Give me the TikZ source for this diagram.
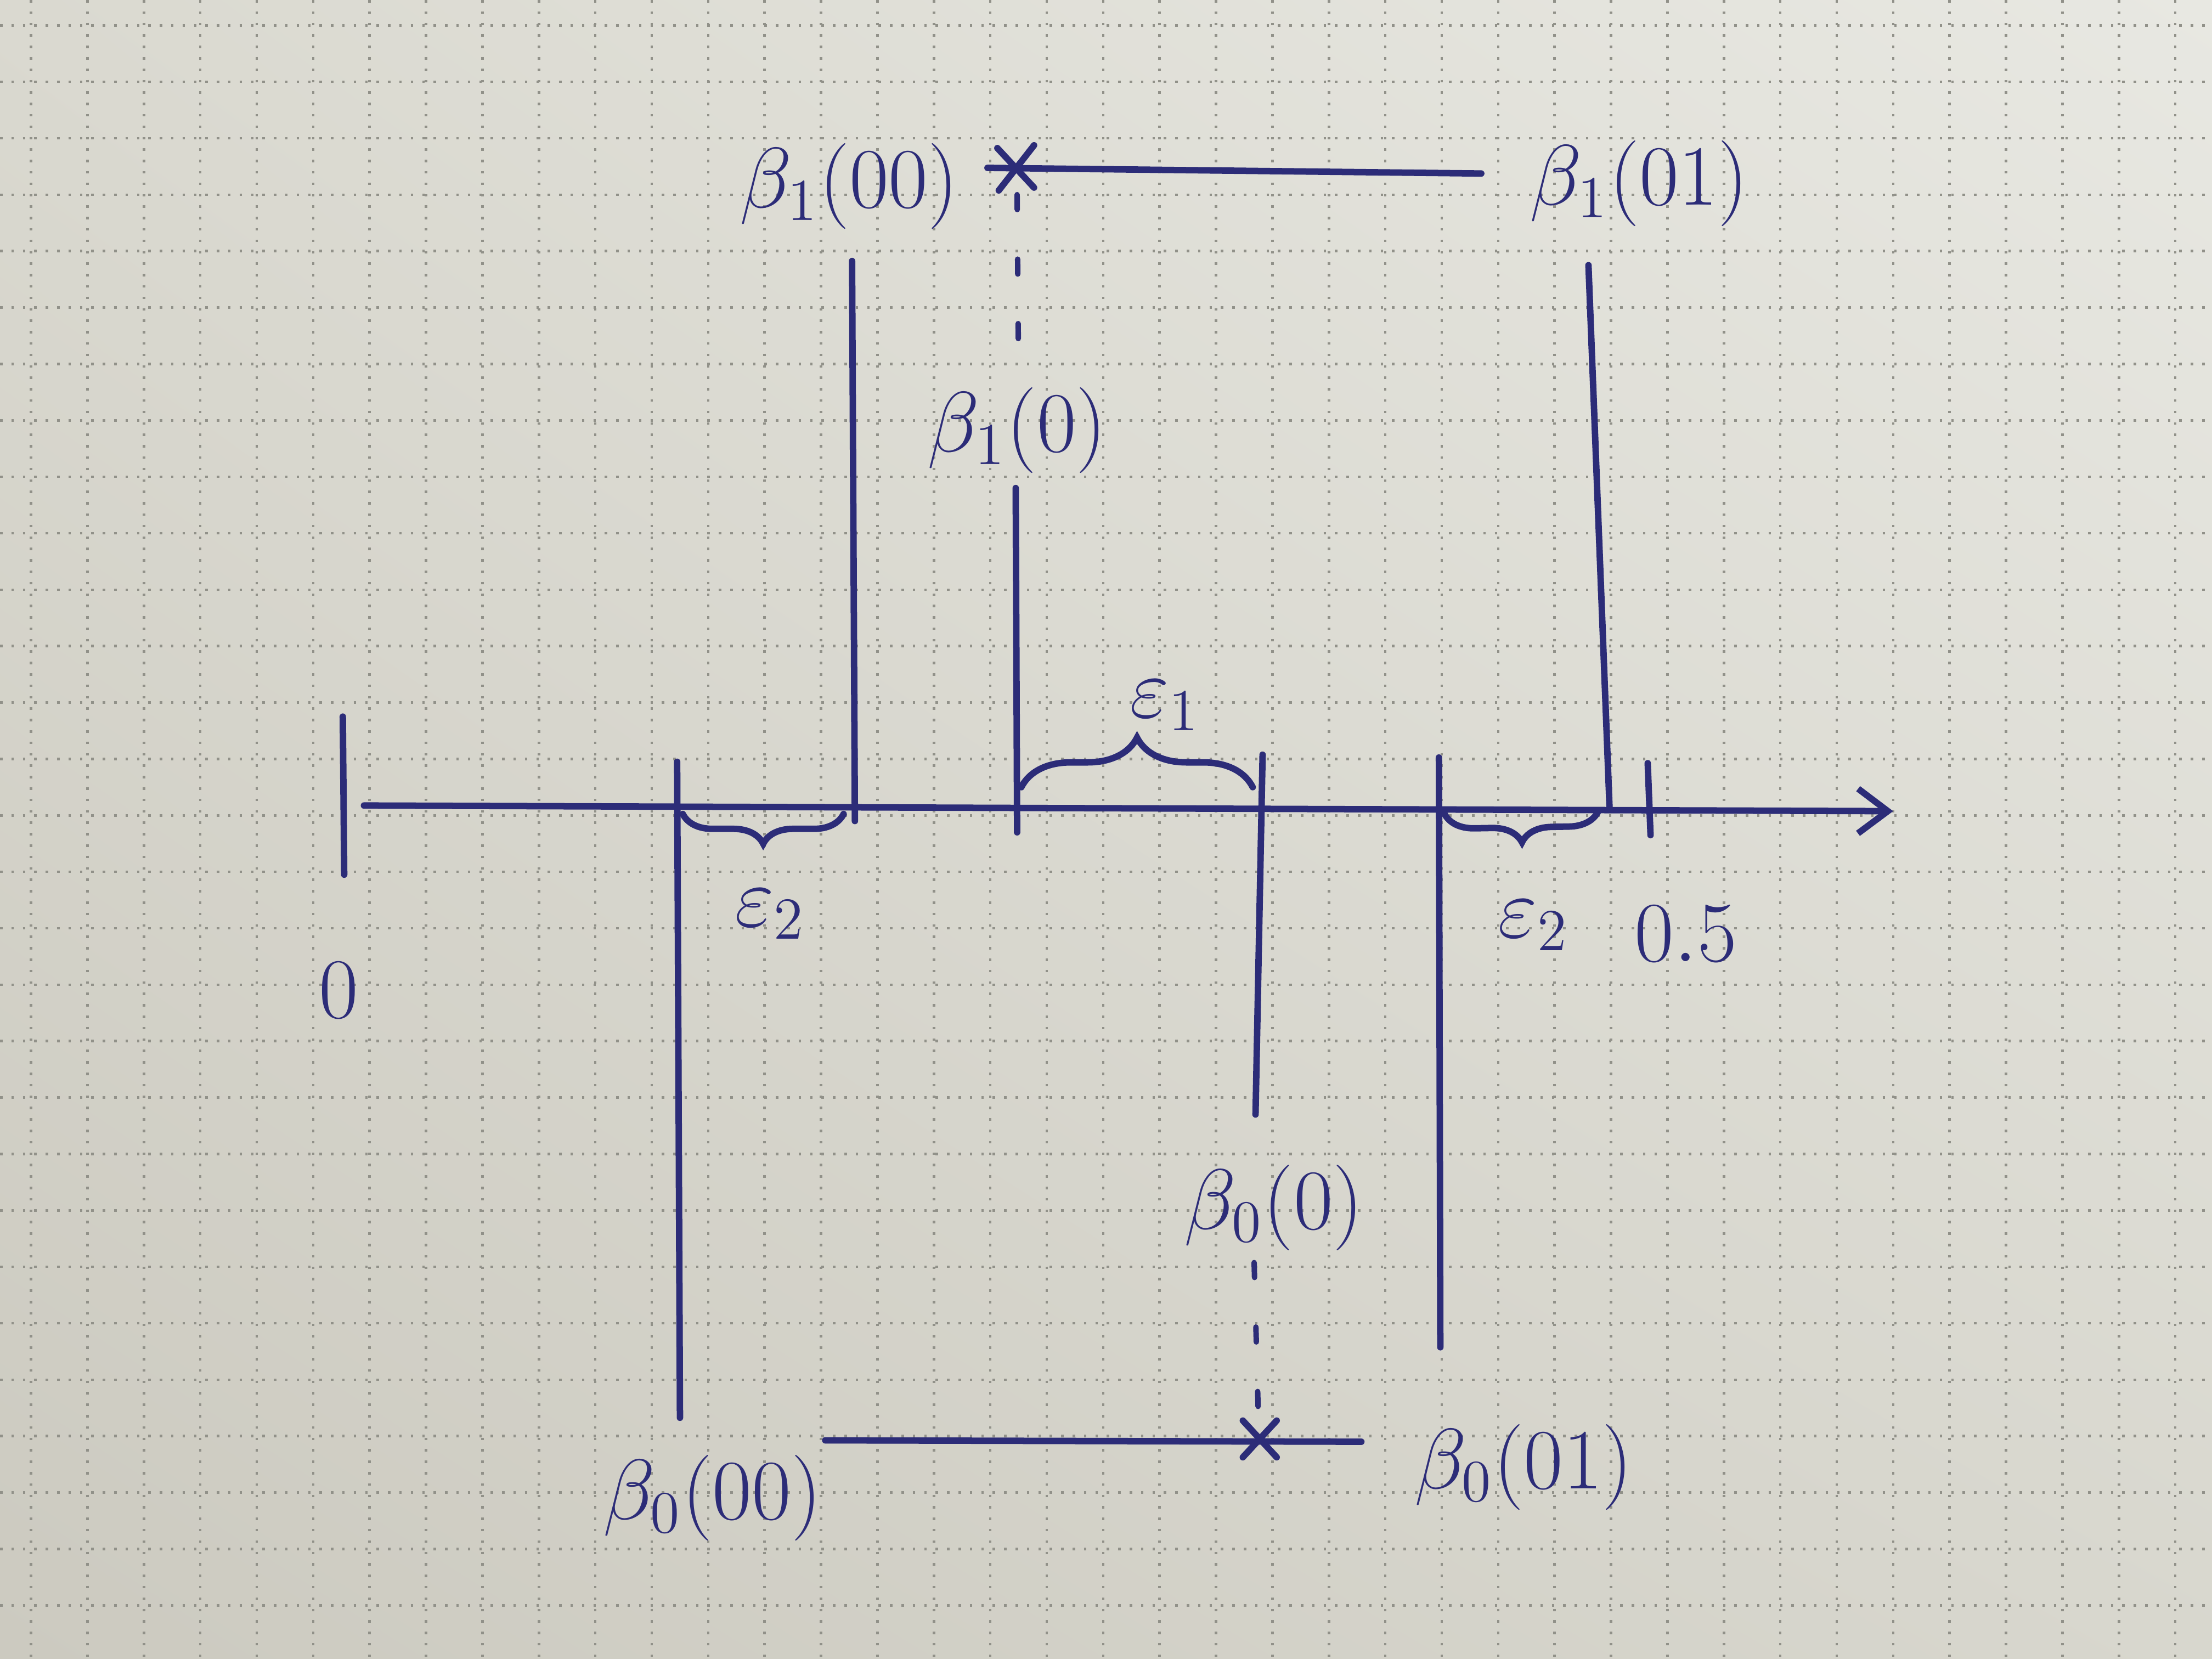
\documentclass[tikz,border=0pt]{standalone}
\usetikzlibrary{arrows.meta,decorations.pathreplacing,calc,shadings}
\definecolor{ink}{RGB}{44,44,120}
\definecolor{paperLL}{RGB}{204,202,192}
\definecolor{paperLR}{RGB}{216,215,206}
\definecolor{paperUL}{RGB}{218,217,208}
\definecolor{paperUR}{RGB}{232,232,226}
\definecolor{gridc}{RGB}{145,145,137}
\begin{document}
\begin{tikzpicture}[x=0.01cm,y=-0.01cm,
  pen/.style={draw=ink, line width=1.3pt, line cap=round},
  guide/.style={draw=ink, line width=1.1pt, line cap=round, dash pattern=on 3pt off 10pt},
  gridline/.style={draw=gridc, line width=0.5pt, dash pattern=on 0.5pt off 1.8pt},
  lbl/.style={text=ink, font=\LARGE, inner sep=0pt},
  bracepen/.style={pen, decorate, decoration={brace, amplitude=#1}}]
\useasboundingbox (0,0) rectangle (1568,1176);
\shade[upper left=paperUL, upper right=paperUR, lower left=paperLL, lower right=paperLR] (0,0) rectangle (1568,1176);
% grid
\foreach \i in {0,...,39} \draw[gridline] ({22+40*\i},0) -- ++(0,1176);
\foreach \j in {0,...,29} \draw[gridline] (0,{18+40*\j}) -- ++(1568,0);

% axis
\coordinate (ax0) at (258,571);
\coordinate (ax1) at (1342,575);
\draw[pen, -{Straight Barb[length=6pt,width=9pt]}] (ax0) -- (ax1);
% ticks
\coordinate (t0a) at (243,508); \coordinate (t0b) at (244,620);
\draw[pen] (t0a) -- (t0b);
\coordinate (t5a) at (1168,541); \coordinate (t5b) at (1170,592);
\draw[pen] (t5a) -- (t5b);
\node[lbl] (zero) at (240,702) {$0$};
\node[lbl] (half) at (1195,662) {$0.5$};

% labels
\node[lbl] (l100) at (602,132) {$\beta_1(00)$};
\node[lbl] (l101) at (1162,130) {$\beta_1(01)$};
\node[lbl] (l10)  at (721,305) {$\beta_1(0)$};
\node[lbl] (l00)  at (903,856) {$\beta_0(0)$};
\node[lbl] (l000) at (505,1062) {$\beta_0(00)$};
\node[lbl] (l001) at (1080,1040) {$\beta_0(01)$};

% vertical lines
\coordinate (a000) at (480,540); \coordinate (b000) at (482,1005);
\draw[pen] (a000) -- (b000);
\coordinate (a100) at (604,185); \coordinate (b100) at (606,582);
\draw[pen] (a100) -- (b100);
\coordinate (a10) at (720,346); \coordinate (b10) at (721,590);
\draw[pen] (a10) -- (b10);
\coordinate (a00) at (895,535); \coordinate (b00) at (890,790);
\draw[pen] (a00) -- (b00);
\coordinate (a001) at (1020,537); \coordinate (b001) at (1021,955);
\draw[pen] (a001) -- (b001);
\coordinate (a101) at (1126,188); \coordinate (b101) at (1141,574);
\draw[pen] (a101) -- (b101);

% top horizontal with cross
\coordinate (h1a) at (700,119); \coordinate (h1b) at (1050,123);
\draw[pen] (h1a) -- (h1b);
\coordinate (x1) at (720,119);
\draw[pen] ($(x1)+(-13,-14)$) -- ($(x1)+(13,14)$);
\draw[pen] ($(x1)+(-12,16)$) -- ($(x1)+(13,-16)$);
\coordinate (g1a) at (721,138);
\coordinate (g1b) at (722,262);
\draw[guide] (g1a) -- (g1b);

% bottom horizontal with cross
\coordinate (h0a) at (585,1021); \coordinate (h0b) at (965,1022);
\draw[pen] (h0a) -- (h0b);
\coordinate (x0) at (893,1021);
\draw[pen] ($(x0)+(-12,-14)$) -- ($(x0)+(12,12)$);
\draw[pen] ($(x0)+(-12,12)$) -- ($(x0)+(12,-14)$);
\coordinate (g0a) at (889,895);
\coordinate (g0b) at (892,1004);
\draw[guide] (g0a) -- (g0b);

% braces
\coordinate (e1a) at (724,558); \coordinate (e1b) at (888,558);
\draw[bracepen=10pt] (e1a) -- (e1b);
\node[lbl] (e1) at (826,500) {$\varepsilon_1$};
\coordinate (e2a) at (598,577); \coordinate (e2b) at (484,577);
\draw[bracepen=6pt] (e2a) -- (e2b);
\node[lbl] (e2l) at (546,648) {$\varepsilon_2$};
\coordinate (e3a) at (1133,575); \coordinate (e3b) at (1024,577);
\draw[bracepen=6pt] (e3a) -- (e3b);
\node[lbl] (e2r) at (1087,656) {$\varepsilon_2$};
\end{tikzpicture}
\end{document}
